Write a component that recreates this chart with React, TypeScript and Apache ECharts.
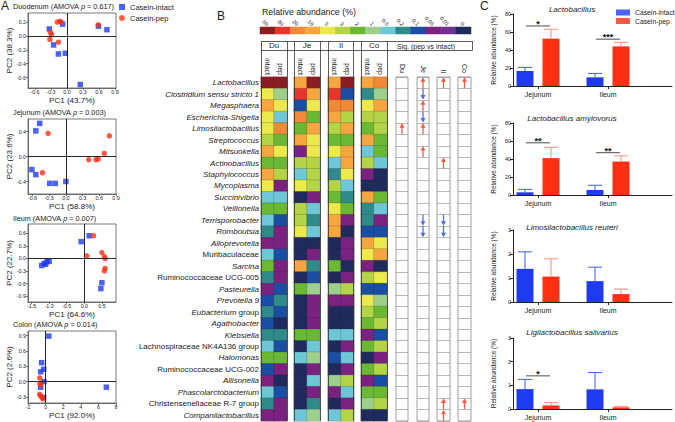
import React, { useEffect, useRef } from 'react';
import * as echarts from 'echarts';

const FONT = "'Liberation Sans', Arial, Helvetica, sans-serif";
const BLUE = '#1f3bf2';
const RED = '#ff2f14';

// ---------- Panel A: PCoA ----------
const pcoaNames = ['Duodenum', 'Jejunum', 'Ileum', 'Colon'];
const amovaP = ['0.617', '0.003', '0.007', '0.014'];
const pc1Pct = ['43.7', '58.8', '64.6', '92.0'];
const pc2Pct = ['38.3', '23.6', '22.7', '2.6'];
const pcoaXTicks = [[-0.6, -0.3, 0, 0.3, 0.6, 0.9], [-0.6, -0.3, 0, 0.3, 0.6, 0.9], [-1.5, -1.0, -0.5, 0, 0.5], [-2, 0, 2, 4, 6, 8]];
const pcoaYTicks = [[0.2, 0, -0.2, -0.4, -0.6], [0.4, 0, -0.4], [0.6, 0.3, 0, -0.3, -0.6, -0.9], [0.9, 0.6, 0.3, 0, -0.3]];
const pcoaXRange = [[-0.73, 0.92], [-0.68, 0.9], [-1.6, 0.9], [-2, 8]];
const pcoaYRange = [[-0.75, 0.33], [-0.6, 0.6], [-1.04, 0.82], [-0.42, 0.99]];

const duIntact = [[-0.33, 0.10], [-0.08, 0.17], [0.59, 0.14], [0.75, 0.09], [-0.25, -0.13], [-0.16, -0.26], [-0.03, -0.25], [0.25, -0.70]];
const duPep = [[-0.18, 0.20], [-0.13, 0.21], [-0.11, 0.20], [0.59, 0.16], [-0.31, 0.05], [-0.29, 0.02], [-0.32, -0.05], [-0.16, -0.09]];
const jeIntact = [[-0.47, 0.53], [-0.54, 0.41], [-0.61, -0.21], [-0.54, -0.29], [-0.29, -0.43], [-0.19, -0.43], [0.0, -0.40]];
const jePep = [[-0.32, 0.37], [0.78, 0.33], [0.69, 0.05], [0.41, -0.05], [0.54, -0.05], [0.58, -0.04], [-0.42, -0.26]];
const ilIntact = [[-1.21, -0.17], [-1.14, -0.12], [-1.06, -0.08], [-1.0, -0.07], [-1.1, -0.14], [-0.09, 0.40], [0.14, 0.54], [0.50, -0.58], [0.47, -0.72]];
const ilPep = [[0.26, 0.54], [0.07, 0.06], [0.50, 0.14], [0.57, 0.04], [0.59, 0.0], [0.59, -0.24], [0.57, -0.30]];
const coIntact = [[0.37, 0.89], [-0.45, 0.37], [-0.22, 0.24], [-0.56, 0.19], [-0.19, 0.0], [-0.56, -0.11], [-0.22, -0.31], [6.9, -0.11]];
const coPep = [[-0.67, 0.07], [-0.64, -0.04], [-0.56, -0.06], [-0.67, -0.25], [-0.56, -0.28], [-0.41, -0.31], [-0.30, -0.34]];
const pcoaIntact = [duIntact, jeIntact, ilIntact, coIntact];
const pcoaPep = [duPep, jePep, ilPep, coPep];

// ---------- Panel B: heatmap ----------
const abundanceLevels = [50, 30, 20, 10, 5, 3, 2, 1, 0.5, 0.2, 0.1, 0.05, 0.01, 0];
const abundanceLabels = ['50', '30', '20', '10', '5', '3', '2', '1', '0.5', '0.2', '0.1', '0.05', '0.01', '0'];
const abundanceColors = ['#8c1d20', '#e8352c', '#f08a38', '#f6a63f', '#ece94c', '#b3d444', '#6bb833', '#9dd08d', '#6ec7d7', '#2e8b8a', '#1a4ea2', '#7b2180', '#70318f', '#1f2b5d'];

const rowNames = ['Lactobacillus', 'Clostridium sensu stricto 1', 'Megasphaera', 'Escherichia-Shigella', 'Limosilactobacillus', 'Streptococcus', 'Mitsuokella', 'Actinobacillus', 'Staphylococcus', 'Mycoplasma', 'Succinivibrio', 'Veillonella', 'Terrisporobacter', 'Romboutsia', 'Alloprevotella', 'Muribaculaceae', 'Sarcina', 'Ruminococcaceae UCG-005', 'Pasteurella', 'Prevotella 9', 'Eubacterium group', 'Agathobacter', 'Klebsiella', 'Lachnospiraceae NK4A136 group', 'Halomonas', 'Ruminococcaceae UCG-002', 'Allisonella', 'Phascolarctobacterium', 'Christensenellaceae R-7 group', 'Companilactobacillus'];
const plainTaxa = ['Muribaculaceae', 'Ruminococcaceae UCG-005', 'Lachnospiraceae NK4A136 group', 'Ruminococcaceae UCG-002', 'Christensenellaceae R-7 group'];
const segmentNames = ['Du', 'Je', 'Il', 'Co'];
const dietNames = ['intact', 'pep'];

const duIntactAb = [50, 5, 10, 5, 5, 3, 10, 2, 10, 5, 0.5, 2, 0.5, 0.2, 0.05, 0.5, 2, 0.2, 0.05, 0.1, 0.2, 0.1, 0.2, 0.5, 2, 0.1, 0.05, 0.5, 0.2, 0.05];
const duPepAb = [50, 1, 5, 0.5, 20, 2, 5, 2, 3, 0.05, 0.5, 2, 0.1, 0.05, 0.05, 0.1, 0.05, 0.05, 0.1, 0.2, 0.1, 0, 0.2, 0.1, 2, 0.05, 0, 0.1, 0.05, 0.05];
const jeIntactAb = [10, 30, 0.1, 20, 2, 10, 0.05, 3, 0.5, 5, 0, 3, 3, 5, 0, 0, 10, 0, 2, 0, 0, 0, 2, 0, 0.5, 0, 0, 0, 0, 0.5];
const jePepAb = [50, 10, 5, 2, 10, 5, 5, 3, 3, 3, 0.05, 0.5, 0.2, 0.5, 0, 0.05, 0.2, 0.1, 1, 0.05, 0.05, 0.05, 2, 0.5, 1, 0.05, 0.5, 0.05, 0.2, 1];
const ilIntactAb = [10, 30, 20, 10, 3, 2, 5, 0.5, 0.2, 3, 2, 5, 10, 10, 0, 0, 2, 0, 1, 0.05, 0, 0, 0.5, 0, 0.1, 0, 1, 0.05, 0, 0.5];
const ilPepAb = [50, 0.1, 20, 3, 10, 2, 10, 10, 5, 0.5, 0.2, 2, 0.05, 0, 0.05, 0.05, 0, 0.05, 3, 0.05, 0, 0, 0.5, 0.05, 0.5, 0.05, 3, 0.5, 0.05, 3];
const coIntactAb = [10, 0.2, 5, 3, 2, 10, 0.5, 3, 0.05, 0, 10, 0.2, 0.2, 0.1, 10, 5, 0.05, 3, 0.1, 5, 3, 2, 0.05, 2, 0, 2, 0.05, 2, 1, 0];
const coPepAb = [20, 1, 10, 3, 3, 2, 2, 0.5, 0, 0, 2, 0.5, 0.05, 0.1, 5, 10, 0, 5, 0.1, 1, 2, 3, 0.1, 3, 0.05, 3, 0.1, 2, 3, 0];
const heatColumns = [[duIntactAb, duPepAb], [jeIntactAb, jePepAb], [ilIntactAb, ilPepAb], [coIntactAb, coPepAb]];

// significance: 1 = up (pep > intact), -1 = down
const sigDu = [0, 0, 0, 0, 1, 0, 0, 0, 0, 0, 0, 0, 0, 0, 0, 0, 0, 0, 0, 0, 0, 0, 0, 0, 0, 0, 0, 0, 0, 0];
const sigJe = [1, -1, 1, -1, 1, 0, 1, 0, 0, 0, 0, 0, -1, -1, 0, 0, 0, 0, 0, 0, 0, 0, 0, 0, 0, 0, 0, 0, 0, 0];
const sigIl = [1, 0, 0, 0, 0, 0, 0, 1, 0, 0, 0, 0, -1, -1, 0, 0, 0, 0, 0, 0, 0, 0, 0, 0, 0, 0, 0, 0, 1, 1];
const sigCo = [1, 0, 0, 0, 0, 0, 0, 0, 0, 0, 0, 0, 0, 0, 0, 0, 0, 0, 0, 0, 0, 0, 0, 0, 0, 0, 0, 0, 1, 0];
const sigColumns = [sigDu, sigJe, sigIl, sigCo];

// ---------- Panel C: bars ----------
const cTitles = ['Lactobacillus', 'Lactobacillus amylovorus', 'Limosilactobacillus reuteri', 'Ligilactobacillus salivarius'];
const cCategories = ['Jejunum', 'Ileum'];
const lacIntact = [16.7, 9.6];
const lacIntactSd = [4.0, 4.4];
const lacPep = [52.6, 44.0];
const lacPepSd = [10.4, 4.5];
const amyIntact = [3.0, 5.6];
const amyIntactSd = [3.3, 5.2];
const amyPep = [41.0, 37.2];
const amyPepSd = [12.0, 6.3];
const reuIntact = [1.38, 0.87];
const reuIntactSd = [0.71, 0.58];
const reuPep = [1.06, 0.33];
const reuPepSd = [0.74, 0.21];
const salIntact = [0.84, 0.83];
const salIntactSd = [0.41, 0.71];
const salPep = [0.15, 0.07];
const salPepSd = [0.12, 0.03];
// [category index, bracket level, number of stars]
const lacSig = [[0, 66.7, 1], [1, 52.0, 3]];
const amySig = [[0, 58.0, 2], [1, 47.0, 2]];
const reuSig: number[][] = [];
const salSig = [[0, 1.40, 1]];
const cYMax = [80, 80, 3, 3];
const cYInterval = [20, 20, 1, 1];
const cIntact = [lacIntact, amyIntact, reuIntact, salIntact];
const cIntactSd = [lacIntactSd, amyIntactSd, reuIntactSd, salIntactSd];
const cPep = [lacPep, amyPep, reuPep, salPep];
const cPepSd = [lacPepSd, amyPepSd, reuPepSd, salPepSd];
const cSig = [lacSig, amySig, reuSig, salSig];

function buildOption() {
  const grid: any[] = [];
  const xAxis: any[] = [];
  const yAxis: any[] = [];
  const series: any[] = [];
  const title: any[] = [];
  const heatIdx: number[] = [];
  const txt = (size: number, extra: any = {}) => ({ fontSize: size, fontFamily: FONT, color: '#1a1a1a', fontWeight: 'normal', ...extra });
  const baseGrid = { outerBoundsMode: 'none', containLabel: false };

  title.push({ text: 'A', left: 1, top: 0, padding: 0, textStyle: txt(12) });
  title.push({ text: 'B', left: 217, top: 10, padding: 0, textStyle: txt(12) });
  title.push({ text: 'C', left: 480, top: 0, padding: 0, textStyle: txt(12) });

  // ----- PCoA -----
  const pcoaTop = [13, 119, 224, 331];
  const pcoaH = [75, 75, 78, 72];
  const pcoaTitleTop = [3, 109, 215, 321];
  for (let i = 0; i < 4; i++) {
    const gi = grid.length;
    grid.push({ ...baseGrid, left: 28, top: pcoaTop[i], width: 88, height: pcoaH[i], show: true, borderColor: '#555', borderWidth: 0.8 });
    const fmt = (v: number) => (i === 3 ? String(Math.round(v)) : (Math.abs(v) < 1e-9 ? '0.0' : v.toFixed(1)));
    xAxis.push({
      type: 'value', gridIndex: gi, min: pcoaXRange[i][0], max: pcoaXRange[i][1],
      splitLine: { show: false },
      axisLine: { show: true, onZero: false, lineStyle: { color: '#555', width: 0.8 } },
      axisTick: { show: true, customValues: pcoaXTicks[i], length: 2, lineStyle: { color: '#555', width: 0.8 } },
      axisLabel: { customValues: pcoaXTicks[i], formatter: fmt, margin: 1.5, ...txt(5.3) },
      name: `PC1 (${pc1Pct[i]}%)`, nameLocation: 'middle', nameGap: 8.5, nameMoveOverlap: false,
      nameTextStyle: txt(8),
    });
    yAxis.push({
      type: 'value', gridIndex: gi, min: pcoaYRange[i][0], max: pcoaYRange[i][1],
      splitLine: { show: false },
      axisLine: { show: true, onZero: false, lineStyle: { color: '#555', width: 0.8 } },
      axisTick: { show: true, customValues: pcoaYTicks[i], length: 2, lineStyle: { color: '#555', width: 0.8 } },
      axisLabel: { customValues: pcoaYTicks[i], formatter: (v: number) => (Math.abs(v) < 1e-9 ? '0.0' : v.toFixed(1)), margin: 2, ...txt(5.3) },
      name: `PC2 (${pc2Pct[i]}%)`, nameLocation: 'middle', nameGap: 14.5, nameMoveOverlap: false,
      nameTextStyle: txt(8),
    });
    series.push({
      type: 'line', xAxisIndex: gi, yAxisIndex: gi, data: [], z: 1, silent: true,
      markLine: { silent: true, symbol: 'none', animation: false, label: { show: false }, lineStyle: { color: '#111', width: 0.9, type: 'solid' }, data: [{ xAxis: 0 }, { yAxis: 0 }] },
    });
    series.push({ type: 'scatter', name: 'Casein-intact', xAxisIndex: gi, yAxisIndex: gi, symbol: 'rect', symbolSize: 5.5, itemStyle: { color: BLUE }, data: pcoaIntact[i], z: 3 });
    series.push({ type: 'scatter', name: 'Casein-pep', xAxisIndex: gi, yAxisIndex: gi, symbol: 'circle', symbolSize: 5.5, itemStyle: { color: RED }, data: pcoaPep[i], z: 3 });
    title.push({
      text: `{n|${pcoaNames[i]} (AMOVA }{i|p}{n| = ${amovaP[i]})}`, left: 13, top: pcoaTitleTop[i], padding: 0,
      textStyle: { rich: { n: txt(7.3), i: txt(7.3, { fontStyle: 'italic' }) } },
    });
  }

  // ----- colour key -----
  {
    const gi = grid.length;
    grid.push({ ...baseGrid, left: 260, top: 27, width: 211, height: 7 });
    xAxis.push({
      type: 'category', gridIndex: gi, data: abundanceLabels, position: 'top',
      axisLine: { show: false }, axisTick: { show: false },
      axisLabel: { interval: 0, rotate: 45, margin: 2, ...txt(5.5) },
    });
    yAxis.push({ type: 'category', gridIndex: gi, data: [''], show: false });
    heatIdx.push(series.length);
    series.push({ type: 'heatmap', xAxisIndex: gi, yAxisIndex: gi, data: abundanceLevels.map((v, k) => [k, 0, v]), silent: true });
    title.push({ text: 'Relative abundance (%)', left: 262, top: 7, padding: 0, textStyle: txt(8.8) });
  }

  // ----- heatmap groups -----
  const heatLeft = [261, 294, 328, 361];
  const labelFmt = (name: string) => {
    if (plainTaxa.includes(name)) return `{n|${name}}`;
    if (name.endsWith(' group')) return `{i|${name.slice(0, -6)}}{n| group}`;
    return `{i|${name}}`;
  };
  for (let g = 0; g < 4; g++) {
    const gi = grid.length;
    grid.push({ ...baseGrid, left: heatLeft[g], top: 77, width: 26, height: 344 });
    xAxis.push({
      type: 'category', gridIndex: gi, data: dietNames, position: 'top',
      axisLine: { show: false }, axisTick: { show: false },
      axisLabel: { interval: 0, rotate: 90, margin: 2, ...txt(7) },
      name: segmentNames[g], nameLocation: 'middle', nameGap: 28, nameMoveOverlap: false, nameTextStyle: txt(8),
    });
    yAxis.push({
      type: 'category', gridIndex: gi, data: rowNames, inverse: true,
      axisLine: { show: false }, axisTick: { show: false },
      axisLabel: {
        show: g === 0, interval: 0, margin: 2, formatter: labelFmt,
        rich: { i: txt(8, { fontStyle: 'italic' }), n: txt(8) },
      },
    });
    const data: any[] = [];
    for (let c = 0; c < 2; c++) heatColumns[g][c].forEach((v, r) => data.push([c, r, v]));
    heatIdx.push(series.length);
    series.push({ type: 'heatmap', xAxisIndex: gi, yAxisIndex: gi, data, silent: true, itemStyle: { borderColor: 'rgba(40,40,40,0.45)', borderWidth: 0.4 } });
  }

  // ----- significance columns -----
  const sigLeft = [396, 417, 437, 458];
  const sigW = [12, 12, 13, 13];
  const arrowPath = 'path://M4,0 L8,5 L5,5 L5,12 L3,12 L3,5 L0,5 Z';
  for (let s = 0; s < 4; s++) {
    const gi = grid.length;
    grid.push({ ...baseGrid, left: sigLeft[s], top: 77, width: sigW[s], height: 344, show: true, borderColor: '#888', borderWidth: 0.8, backgroundColor: '#fff' });
    xAxis.push({
      type: 'category', gridIndex: gi, data: [segmentNames[s]], position: 'top',
      axisLine: { show: false }, axisTick: { show: false },
      axisLabel: { interval: 0, rotate: 90, margin: 4, ...txt(7) },
    });
    yAxis.push({
      type: 'category', gridIndex: gi, data: rowNames, inverse: true,
      axisLine: { show: false }, axisTick: { show: false, interval: 0 }, axisLabel: { show: false, interval: 0 },
      splitLine: { show: true, interval: 0, lineStyle: { color: '#999', width: 0.7 } },
    });
    const data = sigColumns[s]
      .map((v, r) => (v === 0 ? null : { value: [0, r], symbolRotate: v > 0 ? 0 : 180, itemStyle: { color: v > 0 ? '#ff2a1a' : '#1f45f0' } }))
      .filter(Boolean);
    series.push({ type: 'scatter', xAxisIndex: gi, yAxisIndex: gi, symbol: arrowPath, symbolSize: [5, 11], data, silent: true, z: 4 });
  }
  title.push({ text: 'Sig. (pep vs intact)', left: 397, top: 42.5, padding: 0, textStyle: txt(7) });

  // ----- bar charts -----
  const cTop = [14, 123, 230, 338];
  const cH = [72, 72, 72, 71];
  const cTitleTop = [5.5, 114.5, 223.5, 328.5];
  const pos = cCategories.map((_, k) => k + 1);
  const off = 13;
  const errRender = (o: number, color: string) => (params: any, api: any) => {
    const x = api.value(0), m = api.value(1), sd = api.value(2);
    const p0 = api.coord([x, m]);
    const p1 = api.coord([x, m + sd]);
    const cx = p0[0] + o;
    return {
      type: 'group',
      children: [
        { type: 'line', shape: { x1: cx, y1: p0[1], x2: cx, y2: p1[1] }, style: { stroke: color, lineWidth: 1 } },
        { type: 'line', shape: { x1: cx - 7, y1: p1[1], x2: cx + 7, y2: p1[1] }, style: { stroke: color, lineWidth: 1 } },
      ],
    };
  };
  const sigRender = (params: any, api: any) => {
    const x = api.value(0), y = api.value(1), n = api.value(2);
    const p = api.coord([x, y]);
    return {
      type: 'group',
      children: [
        { type: 'line', shape: { x1: p[0] - 12, y1: p[1], x2: p[0] + 12, y2: p[1] }, style: { stroke: '#222', lineWidth: 0.8 } },
        { type: 'text', x: p[0], y: p[1] + 2.5, style: { text: '*'.repeat(n), align: 'center', verticalAlign: 'bottom', fontSize: 9, fontWeight: 'bold', fontFamily: FONT, fill: '#111' } },
      ],
    };
  };
  for (let j = 0; j < 4; j++) {
    const gi = grid.length;
    grid.push({ ...baseGrid, left: 513, top: cTop[j], width: 159, height: cH[j] });
    xAxis.push({
      type: 'value', gridIndex: gi, min: 0.643, max: 2.914,
      splitLine: { show: false },
      axisLine: { show: true, onZero: false, lineStyle: { color: '#222', width: 1 } },
      axisTick: { show: true, customValues: pos, length: 3, lineStyle: { color: '#222' } },
      axisLabel: { customValues: pos, formatter: (v: number) => cCategories[Math.round(v) - 1] || '', margin: 5, ...txt(7) },
    });
    yAxis.push({
      type: 'value', gridIndex: gi, min: 0, max: cYMax[j], interval: cYInterval[j],
      splitLine: { show: false },
      axisLine: { show: true, lineStyle: { color: '#222', width: 1 } },
      axisTick: { show: true, length: 3, lineStyle: { color: '#222' } },
      axisLabel: { margin: 2, ...txt(5.5) },
      name: 'Relative abundance (%)', nameLocation: 'middle', nameGap: 16, nameMoveOverlap: false, nameTextStyle: txt(6.5),
    });
    series.push({ type: 'bar', name: 'Casein-intact', xAxisIndex: gi, yAxisIndex: gi, barWidth: 17, barGap: '53%', itemStyle: { color: BLUE }, data: pos.map((p, k) => [p, cIntact[j][k]]) });
    series.push({ type: 'bar', name: 'Casein-pep', xAxisIndex: gi, yAxisIndex: gi, barWidth: 17, barGap: '53%', itemStyle: { color: RED }, data: pos.map((p, k) => [p, cPep[j][k]]) });
    series.push({ type: 'custom', xAxisIndex: gi, yAxisIndex: gi, renderItem: errRender(-off, '#3d5bff'), data: pos.map((p, k) => [p, cIntact[j][k], cIntactSd[j][k]]), encode: { x: 0, y: 1 }, silent: true, z: 3 });
    series.push({ type: 'custom', xAxisIndex: gi, yAxisIndex: gi, renderItem: errRender(off, '#ff8a7a'), data: pos.map((p, k) => [p, cPep[j][k], cPepSd[j][k]]), encode: { x: 0, y: 1 }, silent: true, z: 3 });
    if (cSig[j].length) {
      series.push({ type: 'custom', xAxisIndex: gi, yAxisIndex: gi, renderItem: sigRender, data: cSig[j].map((d) => [pos[d[0]], d[1], d[2]]), encode: { x: 0, y: 1 }, silent: true, z: 4 });
    }
    title.push({ text: cTitles[j], left: 572, textAlign: 'center', top: cTitleTop[j], padding: 0, textStyle: txt(8, { fontStyle: 'italic' }) });
  }

  // table rules of panel B
  const lines: number[][] = [
    [261, 41.5, 472.5, 41.5],
    [261, 50.5, 472.5, 50.5],
    [472.5, 41, 472.5, 50.5],
  ];
  [261, 287, 294, 320, 328, 353, 361, 387].forEach((x) => lines.push([x + 0.5, 41, x + 0.5, 421]));
  const graphic = lines.map((l) => ({ type: 'line', silent: true, z: 100, shape: { x1: l[0], y1: l[1], x2: l[2], y2: l[3] }, style: { stroke: '#333', lineWidth: 0.8 } }));

  return {
    animation: false,
    backgroundColor: '#fff',
    textStyle: { fontFamily: FONT },
    title,
    grid,
    xAxis,
    yAxis,
    series,
    graphic,
    legend: [
      {
        left: 119, top: 3, orient: 'vertical', itemWidth: 6, itemHeight: 6, itemGap: 3, padding: 0, selectedMode: false,
        textStyle: txt(7.5), data: [{ name: 'Casein-intact', icon: 'rect' }, { name: 'Casein-pep', icon: 'circle' }],
      },
      {
        left: 616, top: 9, orient: 'vertical', itemWidth: 14, itemHeight: 6, itemGap: 1.5, padding: 0, selectedMode: false,
        textStyle: txt(6.8), data: [{ name: 'Casein-intact', icon: 'rect' }, { name: 'Casein-pep', icon: 'rect' }],
      },
    ],
    visualMap: {
      type: 'piecewise', show: false, dimension: 2, seriesIndex: heatIdx,
      pieces: abundanceLevels.map((v, k) => ({ value: v, color: abundanceColors[k] })),
    },
  };
}

export default function App() {
  const ref = useRef<HTMLDivElement>(null);
  useEffect(() => {
    const chart = echarts.init(ref.current as HTMLDivElement, undefined, { renderer: 'svg' });
    chart.setOption(buildOption() as any);
    return () => chart.dispose();
  }, []);
  return <div ref={ref} style={{ position: 'fixed', left: 0, top: 0, width: 675, height: 422, background: '#fff' }} />;
}
